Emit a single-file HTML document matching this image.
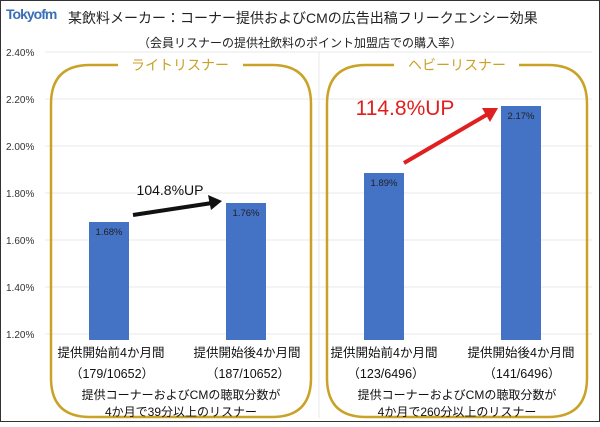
<!DOCTYPE html>
<html><head><meta charset="utf-8"><style>
body{margin:0;width:600px;height:422px;overflow:hidden;background:#fff;font-family:"Liberation Sans","Noto Sans CJK JP",sans-serif}
</style></head><body>
<svg width="600" height="422" viewBox="0 0 600 422" xmlns="http://www.w3.org/2000/svg" font-family="Liberation Sans, Noto Sans CJK JP, sans-serif">
<rect x="0.5" y="0.5" width="599" height="421" fill="#fff" stroke="#333"/>
<text x="6" y="19" font-size="14" font-weight="bold" fill="#3a6fb5" letter-spacing="-1">Tokyofm</text>
<text x="68" y="23" font-size="14" fill="#222">某飲料メーカー：コーナー提供およびCMの広告出稿フリークエンシー効果</text>
<text x="300" y="47" font-size="12" fill="#222" text-anchor="middle">（会員リスナーの提供社飲料のポイント加盟店での購入率）</text>
<g stroke="#e8e8e8" stroke-width="1">
<line x1="45" y1="52" x2="592" y2="52"/><line x1="45" y1="99" x2="592" y2="99"/><line x1="45" y1="146" x2="592" y2="146"/><line x1="45" y1="193" x2="592" y2="193"/><line x1="45" y1="240" x2="592" y2="240"/><line x1="45" y1="287" x2="592" y2="287"/><line x1="45" y1="334" x2="592" y2="334"/>
<line x1="319" y1="52" x2="319" y2="418"/>
</g>
<g font-size="10" fill="#333">
<text x="6" y="56">2.40%</text><text x="6" y="103">2.20%</text><text x="6" y="150">2.00%</text><text x="6" y="197">1.80%</text><text x="6" y="244">1.60%</text><text x="6" y="291">1.40%</text><text x="6" y="338">1.20%</text>
</g>
<g fill="#4472c4">
<rect x="89" y="222" width="40" height="118"/>
<rect x="226" y="203" width="40" height="137"/>
<rect x="364" y="173" width="40" height="167"/>
<rect x="501" y="106" width="40" height="234"/>
</g>
<g font-size="9.5" fill="#222" text-anchor="middle">
<text x="109" y="235">1.68%</text><text x="246" y="216">1.76%</text><text x="384" y="186">1.89%</text><text x="521" y="119">2.17%</text>
</g>
<g fill="none" stroke="#c9a227" stroke-width="2.5">
<path d="M118 65 H90 Q51 65 51 104 V378 Q51 417 90 417 H272 Q311 417 311 378 V104 Q311 65 272 65 H243"/>
<path d="M394 65 H366 Q327 65 327 104 V378 Q327 417 366 417 H548 Q587 417 587 378 V104 Q587 65 548 65 H519"/>
</g>
<text x="180" y="70" font-size="14" fill="#c9a227" text-anchor="middle">ライトリスナー</text>
<text x="457" y="70" font-size="14" fill="#c9a227" text-anchor="middle">ヘビーリスナー</text>
<line x1="133" y1="215" x2="212" y2="203" stroke="#111" stroke-width="4"/>
<polygon points="222,201 208,195 211,210" fill="#111"/>
<text x="170" y="195" font-size="14" fill="#111" text-anchor="middle">104.8%UP</text>
<line x1="404" y1="163" x2="488" y2="114" stroke="#e02020" stroke-width="4"/>
<polygon points="498,108 482,108 490,122" fill="#e02020"/>
<text x="405" y="115" font-size="21" fill="#e02020" text-anchor="middle">114.8%UP</text>
<g font-size="12.5" fill="#111" text-anchor="middle">
<text x="111" y="357">提供開始前4か月間</text><text x="247" y="357">提供開始後4か月間</text>
<text x="384" y="357">提供開始前4か月間</text><text x="521" y="357">提供開始後4か月間</text>
<text x="112" y="378">（179/10652）</text><text x="248" y="378">（187/10652）</text>
<text x="386" y="378">（123/6496）</text><text x="522" y="378">（141/6496）</text>
<text x="181" y="399" font-size="12">提供コーナーおよびCMの聴取分数が</text>
<text x="181" y="416" font-size="12">4か月で39分以上のリスナー</text>
<text x="457" y="399" font-size="12">提供コーナーおよびCMの聴取分数が</text>
<text x="457" y="416" font-size="12">4か月で260分以上のリスナー</text>
</g>
</svg>
</body></html>
